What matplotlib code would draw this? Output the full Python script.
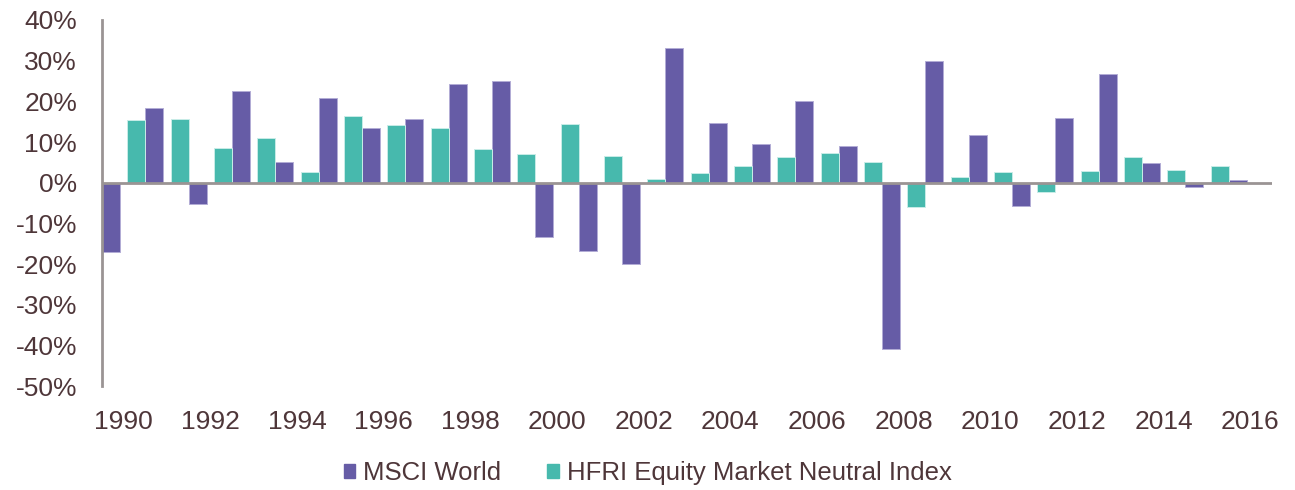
import matplotlib.pyplot as plt
from matplotlib.patches import Patch
from matplotlib.ticker import FuncFormatter
import numpy as np

years = list(range(1990, 2017))
msci_world = [-17.1, 18.3, -5.3, 22.6, 5.0, 20.7, 13.5, 15.7, 24.3, 25.0,
              -13.3, -16.9, -20.0, 33.1, 14.6, 9.5, 20.1, 9.0, -40.9, 30.0,
              11.7, -5.7, 15.9, 26.7, 4.9, -1.0, 0.6]
hfri_emn = [15.4, 15.6, 8.6, 11.0, 2.6, 16.3, 14.1, 13.5, 8.2, 7.0,
            14.5, 6.6, 0.8, 2.3, 4.1, 6.2, 7.2, 5.2, -6.0, 1.3,
            2.7, -2.2, 2.9, 6.3, 3.0, 4.2, np.nan]
label_years = years[::2]

PURPLE = '#665ca6'
TEAL = '#47b9ad'
TEXT = '#4e3639'
AXIS = '#9a9494'

plt.rcParams['font.family'] = ['Liberation Sans', 'DejaVu Sans']


def plot_returns():
    fig = plt.figure(figsize=(12.95, 4.9), dpi=100)
    ax = fig.add_axes([0.0788, 0.2122, 0.9034, 0.747])

    idx = np.arange(len(years))
    w = 0.415
    # each year spans [i, i+1]: MSCI at the left edge, HFRI at the right edge
    ax.bar(idx, msci_world, width=w, align='edge', color=PURPLE,
           edgecolor='#b3acd6', linewidth=0.7, zorder=2)
    ax.bar(idx + 1 - w, hfri_emn, width=w, align='edge', color=TEAL,
           edgecolor='#c8ece7', linewidth=0.7, zorder=2)

    ax.set_xlim(0, len(years))
    ax.set_ylim(-50, 40)
    ax.set_yticks(range(-50, 41, 10))
    ax.yaxis.set_major_formatter(FuncFormatter(lambda v, p: f'{v:.0f}%'))
    ax.set_xticks([years.index(y) + 0.5 for y in label_years])
    ax.set_xticklabels([str(y) for y in label_years])

    ax.axhline(0, color=AXIS, linewidth=2, zorder=3)
    for s in ['top', 'right', 'bottom']:
        ax.spines[s].set_visible(False)
    ax.spines['left'].set_color(AXIS)
    ax.spines['left'].set_linewidth(2)
    ax.tick_params(axis='both', length=0, labelsize=19, labelcolor=TEXT)
    ax.tick_params(axis='y', pad=18)
    ax.tick_params(axis='x', pad=17)

    handles = [Patch(color=PURPLE, label='MSCI World'),
               Patch(color=TEAL, label='HFRI Equity Market Neutral Index')]
    leg = fig.legend(handles=handles, loc='lower center', ncol=2,
                     bbox_to_anchor=(0.5, -0.037), frameon=False, fontsize=18.5,
                     handlelength=0.45, handleheight=0.45, handletextpad=0.3,
                     columnspacing=1.8)
    for t in leg.get_texts():
        t.set_color(TEXT)

    fig.savefig('out.png', dpi=100)


if __name__ == '__main__':
    plot_returns()
